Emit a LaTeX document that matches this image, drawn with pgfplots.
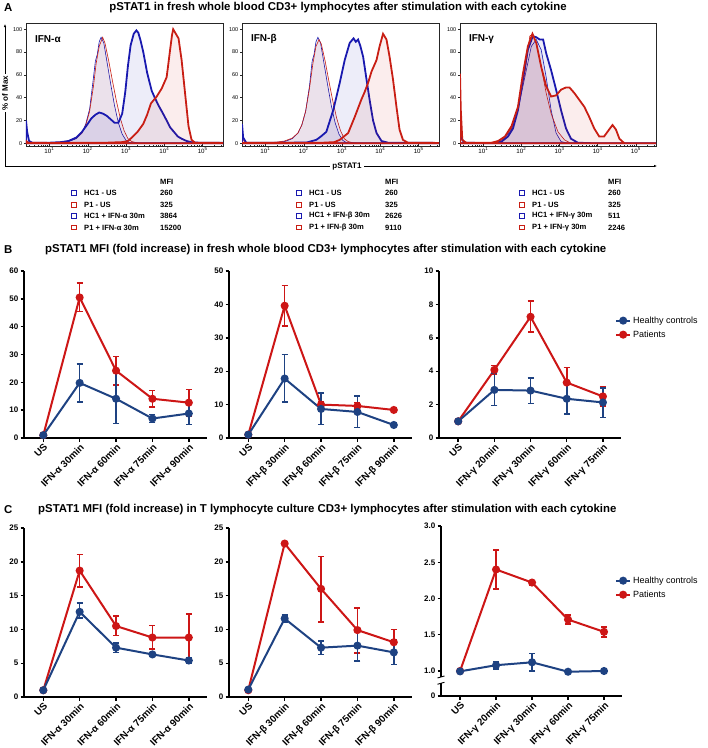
\documentclass[border=0pt]{standalone}
\usepackage{fontspec}
\setmainfont{Liberation Sans}
\usepackage{pgfplots}
\pgfplotsset{compat=1.18}
\usetikzlibrary{arrows.meta}
\definecolor{hblue}{RGB}{25,25,175}
\definecolor{hred}{RGB}{200,30,20}
\definecolor{gblue}{RGB}{30,66,130}
\definecolor{gred}{RGB}{205,22,22}
\pgfplotsset{
 histo/.style={scale only axis, width=197pt, height=123pt,
  xmin=0.39, xmax=5.53, ymin=-2.4, ymax=105.5,
  axis line style={black!85, line width=0.5pt},
  xtick={1,2,3,4,5},
  xticklabels={10\textsuperscript{1},10\textsuperscript{2},10\textsuperscript{3},10\textsuperscript{4},10\textsuperscript{5}},
  minor xtick={0.477,0.602,0.699,0.778,0.845,0.903,0.954,1.301,1.477,1.602,1.699,1.778,1.845,1.903,1.954,2.301,2.477,2.602,2.699,2.778,2.845,2.903,2.954,3.301,3.477,3.602,3.699,3.778,3.845,3.903,3.954,4.301,4.477,4.602,4.699,4.778,4.845,4.903,4.954,5.301,5.477},
  ytick={0,20,40,60,80,100},
  tick pos=left, xtick align=inside, ytick align=outside,
  major tick length=2pt, minor tick length=1.2pt,
  every tick/.style={black!85, line width=0.4pt},
  y tick label style={font=\fontsize{5.5}{6.5}\selectfont, inner sep=1.5pt},
  x tick label style={font=\fontsize{6.2}{7}\selectfont, inner sep=1.5pt},
  /pgf/number format/assume math mode=true, clip=true},
 thin/.style={line width=0.6pt},
 thick/.style={line width=1.8pt},
 gp/.style={scale only axis, width=183pt, xmin=-0.53, xmax=4.5,
  axis x line*=bottom, axis y line*=left,
  axis line style={line width=1.4pt, -},
  every tick/.style={line width=1.4pt, black},
  major tick length=3.5pt, tick align=outside,
  xtick={0,1,2,3,4},
  x tick label style={rotate=45, anchor=north east, font=\bfseries\fontsize{9.8}{10}\selectfont, inner sep=1pt},
  y tick label style={font=\bfseries\fontsize{8}{9}\selectfont, inner sep=2pt},
  /pgf/number format/assume math mode=true, clip=false,
  legend style={draw=none, fill=none, font=\fontsize{9}{10}\selectfont, anchor=north west, inner sep=0pt, row sep=2pt},
  legend cell align=left, reverse legend,
  legend image code/.code={\draw[mark repeat=2,mark phase=2,#1] plot coordinates {(0pt,0pt) (7pt,0pt) (14pt,0pt)};}},
 pred/.style={gred, line width=2pt, mark=*, mark size=3pt,
  error bars/.cd, y dir=both, y explicit,
  error bar style={gred, line width=1.6pt}, error mark options={gred, rotate=90, mark size=3pt, line width=1.6pt}},
 pblue/.style={gblue, line width=2pt, mark=*, mark size=3pt,
  error bars/.cd, y dir=both, y explicit,
  error bar style={gblue, line width=1.6pt}, error mark options={gblue, rotate=90, mark size=3pt, line width=1.6pt}},
}
\begin{document}
\begin{tikzpicture}
\useasboundingbox (0,0) rectangle (708pt,-748pt);
\tikzset{ttl/.style={font=\bfseries\fontsize{11.4}{13}\selectfont, inner sep=0pt}}
% ---------- Panel A ----------
\node[ttl, anchor=west] at (4pt,-8pt) {A};
\node[ttl] at (338pt,-8pt) {pSTAT1 in fresh whole blood CD3+ lymphocytes after stimulation with each cytokine};

\begin{axis}[histo, at={(26pt,-146pt)}, anchor=south west]
\addplot[hblue, thin, fill=hblue, fill opacity=0.08] coordinates {(0.39,0) (1.0,0.3) (1.3,0.8) (1.5,1.5) (1.7,4) (1.85,9) (1.95,17) (2.05,30) (2.13,52) (2.2,72) (2.25,78) (2.3,89) (2.35,93) (2.42,88) (2.5,72) (2.6,52) (2.7,33) (2.8,18) (2.9,8) (3.0,2.5) (3.1,0.5) (3.3,0) (5.53,0)} \closedcycle;
\addplot[hred, thin, fill=hred, fill opacity=0.06] coordinates {(0.39,0) (1.0,0.3) (1.3,1) (1.5,2) (1.7,4.5) (1.85,9) (1.95,16) (2.05,28) (2.15,50) (2.22,70) (2.3,85) (2.39,93) (2.45,88) (2.55,72) (2.65,54) (2.75,37) (2.85,22) (2.95,11) (3.05,4) (3.15,1.5) (3.3,0.3) (3.5,0) (5.53,0)} \closedcycle;
\addplot[hblue, thick, fill=hblue, fill opacity=0.08] coordinates {(0.39,20) (0.42,10) (0.47,2) (0.55,0.5) (1.0,0.5) (1.3,1) (1.5,2) (1.7,5) (1.85,10) (2.0,17) (2.1,22) (2.2,25) (2.3,27) (2.4,26) (2.5,24) (2.6,21) (2.7,18) (2.8,18) (2.9,26) (2.98,45) (3.05,68) (3.12,86) (3.2,96) (3.27,99) (3.32,97) (3.38,90) (3.45,80) (3.55,62) (3.67,46) (3.75,40) (3.85,33) (3.95,27) (4.06,20) (4.15,14) (4.25,10) (4.35,6) (4.45,4) (4.58,2) (4.7,1) (4.9,0.5) (5.53,0.5)} \closedcycle;
\addplot[hred, thick, fill=hred, fill opacity=0.08] coordinates {(0.39,2) (0.45,0.5) (1.0,0.3) (2.5,0.5) (2.9,1) (3.05,2) (3.15,5) (3.3,10) (3.45,17) (3.55,25) (3.65,35) (3.8,41) (3.93,48) (4.06,58) (4.15,82) (4.2,95) (4.23,100) (4.3,96) (4.37,92) (4.45,73) (4.54,44) (4.63,15) (4.71,3) (4.8,0.5) (5.53,0.3)} \closedcycle;
\node[font=\bfseries\fontsize{10}{12}\selectfont, anchor=west, inner sep=0pt] at (rel axis cs:0.045,0.87) {IFN-α};
\end{axis}

\begin{axis}[histo, at={(242pt,-146pt)}, anchor=south west]
\addplot[hblue, thin, fill=hblue, fill opacity=0.08] coordinates {(0.39,0) (1.0,0.3) (1.3,0.8) (1.5,1.5) (1.7,4) (1.85,9) (1.95,16) (2.05,28) (2.15,50) (2.22,72) (2.27,78) (2.32,89) (2.37,93) (2.44,88) (2.52,72) (2.62,52) (2.72,33) (2.82,18) (2.92,8) (3.02,2.5) (3.12,0.5) (3.3,0) (5.53,0)} \closedcycle;
\addplot[hred, thin, fill=hred, fill opacity=0.06] coordinates {(0.39,12) (0.42,3) (0.5,0.5) (1.0,0.3) (1.3,1) (1.5,2) (1.7,4.5) (1.85,9) (1.95,16) (2.05,28) (2.15,48) (2.24,70) (2.32,85) (2.4,91) (2.46,87) (2.56,72) (2.66,54) (2.76,37) (2.86,22) (2.96,11) (3.06,4) (3.16,1.5) (3.3,0.3) (3.5,0) (5.53,0)} \closedcycle;
\addplot[hblue, thick, fill=hblue, fill opacity=0.08] coordinates {(0.39,17) (0.42,5) (0.5,0.5) (1.5,0.5) (2.07,0.6) (2.33,3) (2.45,6) (2.59,10) (2.77,29) (2.94,53) (3.07,73) (3.2,88) (3.3,92) (3.36,89) (3.42,91) (3.48,85) (3.55,76) (3.63,58) (3.72,38) (3.81,20) (3.9,9) (4.03,2) (4.2,0.5) (5.53,0.3)} \closedcycle;
\addplot[hred, thick, fill=hred, fill opacity=0.08] coordinates {(0.39,0.5) (2.5,0.5) (2.8,1) (2.94,3) (3.16,9) (3.33,23) (3.5,38) (3.59,45) (3.68,53) (3.77,63) (3.9,73) (3.98,85) (4.07,96) (4.16,91) (4.24,76) (4.33,56) (4.42,32) (4.5,12) (4.59,3) (4.72,0.5) (5.53,0.3)} \closedcycle;
\node[font=\bfseries\fontsize{10}{12}\selectfont, anchor=west, inner sep=0pt] at (rel axis cs:0.045,0.87) {IFN-β};
\end{axis}

\begin{axis}[histo, width=196pt, at={(460pt,-146pt)}, anchor=south west]
\addplot[hblue, thin, fill=hblue, fill opacity=0.08] coordinates {(0.39,0) (1.3,0) (1.5,2) (1.74,12) (1.91,29) (2.09,58) (2.26,85) (2.39,91) (2.52,82) (2.65,58) (2.78,29) (2.91,9) (3.04,1.5) (3.22,0) (5.53,0)} \closedcycle;
\addplot[hred, thin, fill=hred, fill opacity=0.06] coordinates {(0.39,0) (1.3,0.5) (1.5,3) (1.74,13) (1.91,32) (2.09,61) (2.22,94) (2.3,96) (2.39,88) (2.52,67) (2.65,44) (2.78,26) (2.96,10) (3.13,3) (3.3,0) (5.53,0)} \closedcycle;
\addplot[hblue, thick, fill=hblue, fill opacity=0.08] coordinates {(0.39,20) (0.42,5) (0.5,0.5) (1.3,0) (1.48,1.5) (1.65,6) (1.78,13) (1.91,29) (2.04,56) (2.17,82) (2.3,94) (2.39,93) (2.48,91) (2.57,91) (2.65,79) (2.78,64) (2.91,47) (3.04,29) (3.17,13) (3.3,4) (3.48,0.5) (3.9,0) (5.53,0)} \closedcycle;
\addplot[hred, thick, fill=hred, fill opacity=0.08] coordinates {(0.39,61) (0.41,30) (0.45,3) (0.55,0.5) (1.22,0.5) (1.39,2) (1.57,6) (1.74,15) (1.91,32) (2.04,61) (2.17,85) (2.29,96) (2.39,88) (2.52,67) (2.65,50) (2.78,41) (2.91,42) (3.04,47) (3.17,49) (3.26,49) (3.39,44) (3.52,38) (3.65,32) (3.78,23) (3.91,13) (4.04,6) (4.17,6) (4.3,12) (4.39,16) (4.48,12) (4.57,4) (4.7,0) (5.53,0)} \closedcycle;
\node[font=\bfseries\fontsize{10}{12}\selectfont, anchor=west, inner sep=0pt] at (rel axis cs:0.045,0.87) {IFN-γ};
\end{axis}

% axis frame arrows of panel A
\draw[line width=0.6pt, -{Latex[length=3pt,width=2.5pt]}] (5pt,-166pt) -- (5pt,-24pt);
\draw[line width=0.6pt, -{Latex[length=3pt,width=2.5pt]}] (5pt,-166pt) -- (657pt,-166pt);
\node[fill=white, rotate=90, font=\bfseries\fontsize{8}{9}\selectfont, inner sep=1.5pt] at (5pt,-93pt) {\% of Max};
\node[fill=white, font=\bfseries\fontsize{8}{9}\selectfont, inner sep=2pt] at (347pt,-167pt) {pSTAT1};

% legend tables
\foreach \dx/\g/\va/\vb/\vc/\vd in {0/α/260/325/3864/15200, 225/β/260/325/2626/9110, 448/γ/260/325/511/2246}{
 \begin{scope}[xshift=\dx pt, font=\bfseries\fontsize{7.6}{8}\selectfont]
 \node[anchor=west, inner sep=0pt] at (160pt,-182pt) {MFI};
 \node[draw=hblue, line width=0.6pt, minimum size=5pt, inner sep=0pt] at (74pt,-193pt) {};
 \node[draw=hred, line width=0.6pt, minimum size=5pt, inner sep=0pt] at (74pt,-204.5pt) {};
 \node[draw=hblue, line width=1.4pt, minimum size=4.5pt, inner sep=0pt] at (74pt,-216pt) {};
 \node[draw=hred, line width=1.4pt, minimum size=4.5pt, inner sep=0pt] at (74pt,-227.5pt) {};
 \node[anchor=west, inner sep=0pt] at (84pt,-193pt) {HC1 - US};
 \node[anchor=west, inner sep=0pt] at (84pt,-204.5pt) {P1 - US};
 \node[anchor=west, inner sep=0pt] at (84pt,-216pt) {HC1 + IFN-\g\ 30m};
 \node[anchor=west, inner sep=0pt] at (84pt,-227.5pt) {P1 + IFN-\g\ 30m};
 \node[anchor=west, inner sep=0pt] at (160pt,-193pt) {\va};
 \node[anchor=west, inner sep=0pt] at (160pt,-204.5pt) {\vb};
 \node[anchor=west, inner sep=0pt] at (160pt,-216pt) {\vc};
 \node[anchor=west, inner sep=0pt] at (160pt,-227.5pt) {\vd};
 \end{scope}
}

% ---------- Panel B ----------
\node[ttl, anchor=west] at (4pt,-250pt) {B};
\node[ttl, anchor=west] at (45pt,-250pt) {pSTAT1 MFI (fold increase) in fresh whole blood CD3+ lymphocytes after stimulation with each cytokine};

\begin{axis}[gp, height=167pt, at={(24pt,-438pt)}, anchor=south west, ymin=0, ymax=60, ytick={0,10,...,60},
 xticklabels={US,IFN-α 30min,IFN-α 60min,IFN-α 75min,IFN-α 90min}]
\addplot[pred] coordinates {(0,1) (1,50.5) += (0,5.2) -= (0,5.1) (2,24.2) += (0,5.1) -= (0,5.2) (3,14.1) += (0,3) -= (0,2.9) (4,12.7) += (0,4.8) -= (0,4.8)};
\addplot[pblue] coordinates {(0,1) +- (0,0.3) (1,19.8) += (0,6.8) -= (0,6.9) (2,14.1) += (0,9.9) -= (0,8.9) (3,7) +- (0,1.4) (4,8.8) += (0,3.7) -= (0,4)};
\end{axis}

\begin{axis}[gp, height=167pt, at={(229pt,-438pt)}, anchor=south west, ymin=0, ymax=50, ytick={0,10,...,50},
 xticklabels={US,IFN-β 30min,IFN-β 60min,IFN-β 75min,IFN-β 90min}]
\addplot[pred] coordinates {(0,1) (1,39.6) += (0,6.1) -= (0,6) (2,10) +- (0,0.8) (3,9.6) +- (0,1) (4,8.4) +- (0,0.4)};
\addplot[pblue] coordinates {(0,1) (1,17.8) += (0,7.2) -= (0,7) (2,8.7) += (0,4.8) -= (0,4.7) (3,7.8) += (0,4.8) -= (0,4.6) (4,3.9) +- (0,0.5)};
\end{axis}

\begin{axis}[gp, width=182pt, height=167pt, at={(439pt,-438pt)}, anchor=south west, ymin=0, ymax=10, ytick={0,2,...,10},
 xticklabels={US,IFN-γ 20min,IFN-γ 30min,IFN-γ 60min,IFN-γ 75min},
 legend style={at={(rel axis cs:0.967,0.74)}}]
\addplot[pred] coordinates {(0,1) (1,4.08) += (0,0.27) -= (0,0.28) (2,7.26) += (0,0.94) -= (0,0.9) (3,3.32) += (0,0.91) -= (0,0.87) (4,2.49) += (0,0.57) -= (0,0.56)};
\addplot[pblue] coordinates {(0,1) (1,2.88) += (0,1) -= (0,0.93) (2,2.84) += (0,0.76) -= (0,0.77) (3,2.35) += (0,0.97) -= (0,0.9) (4,2.13) += (0,0.87) -= (0,0.9)};
\legend{Patients, Healthy controls}
\end{axis}

% ---------- Panel C ----------
\node[ttl, anchor=west] at (4pt,-510pt) {C};
\node[ttl, anchor=west] at (38pt,-510pt) {pSTAT1 MFI (fold increase) in T lymphocyte culture CD3+ lymphocytes after stimulation with each cytokine};

\begin{axis}[gp, height=169pt, at={(24pt,-697pt)}, anchor=south west, ymin=0, ymax=25, ytick={0,5,...,25},
 xticklabels={US,IFN-α 30min,IFN-α 60min,IFN-α 75min,IFN-α 90min}]
\addplot[pred] coordinates {(0,1) (1,18.7) += (0,2.4) -= (0,2.4) (2,10.5) += (0,1.5) -= (0,1.4) (3,8.8) += (0,1.8) -= (0,1.7) (4,8.8) += (0,3.5) -= (0,3.4)};
\addplot[pblue] coordinates {(0,1) (1,12.6) += (0,1.3) -= (0,0.9) (2,7.3) +- (0,0.7) (3,6.3) +- (0,0.3) (4,5.4) +- (0,0.4)};
\end{axis}

\begin{axis}[gp, height=169pt, at={(229pt,-697pt)}, anchor=south west, ymin=0, ymax=25, ytick={0,5,...,25},
 xticklabels={US,IFN-β 30min,IFN-β 60min,IFN-β 75min,IFN-β 90min}]
\addplot[pred] coordinates {(0,1) (1,22.7) +- (0,0.1) (2,16) += (0,4.8) -= (0,4.9) (3,9.9) += (0,3.3) -= (0,3.4) (4,8.1) += (0,1.9) -= (0,1.8)};
\addplot[pblue] coordinates {(0,1.1) (1,11.6) +- (0,0.5) (2,7.3) +- (0,1) (3,7.6) += (0,2.3) -= (0,2.3) (4,6.6) += (0,1.8) -= (0,1.8)};
\end{axis}

\begin{axis}[gp, width=181pt, height=170pt, at={(441pt,-696pt)}, anchor=south west, ymin=0.655, ymax=3, ytick={0.655,1,1.5,2,2.5,3},
 yticklabels={0,1.0,1.5,2.0,2.5,3.0},
 xticklabels={US,IFN-γ 20min,IFN-γ 30min,IFN-γ 60min,IFN-γ 75min},
 legend style={at={(rel axis cs:0.961,0.715)}}]
\addplot[pred] coordinates {(0,1) (1,2.40) += (0,0.27) -= (0,0.27) (2,2.22) +- (0,0.03) (3,1.71) +- (0,0.06) (4,1.54) +- (0,0.07)};
\addplot[pblue] coordinates {(0,0.995) (1,1.08) +- (0,0.05) (2,1.12) += (0,0.12) -= (0,0.12) (3,0.99) +- (0,0.015) (4,1.0) +- (0,0.015)};
\legend{Patients, Healthy controls}
\fill[white] ([xshift=-2pt]rel axis cs:0,0.075) rectangle ([xshift=2pt]rel axis cs:0,0.112);
\draw[line width=0.9pt] ([xshift=-3.5pt,yshift=-1pt]rel axis cs:0,0.075) -- ([xshift=3.5pt,yshift=1pt]rel axis cs:0,0.075);
\draw[line width=0.9pt] ([xshift=-3.5pt,yshift=-1pt]rel axis cs:0,0.112) -- ([xshift=3.5pt,yshift=1pt]rel axis cs:0,0.112);
\end{axis}
\end{tikzpicture}
\end{document}
